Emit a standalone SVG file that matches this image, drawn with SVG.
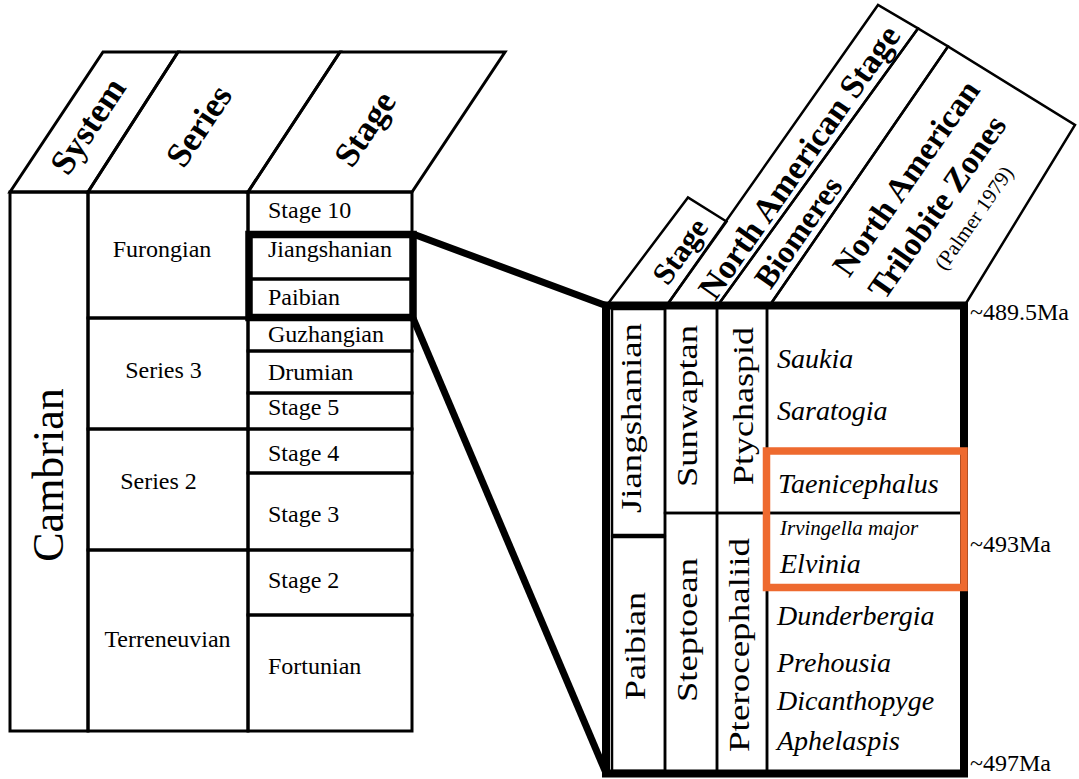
<svg xmlns="http://www.w3.org/2000/svg" width="1079" height="779" viewBox="0 0 1079 779">
<style>
.t{font-family:"Liberation Serif","Times New Roman",serif;fill:#000}
.lt{font-size:24px}
.hb{font-weight:bold}
.it{font-style:italic;font-size:28px}
.vt{font-size:30px}
.ln{stroke:#000;stroke-width:3;fill:none}
.tn{stroke:#000;stroke-width:2.5;fill:none}
.thick{stroke:#000;stroke-width:7.5;fill:none}
.orange{stroke:#EE6A2F;stroke-width:7.5;fill:none}
.lab{font-size:24px}
</style>
<rect width="1079" height="779" fill="#fff"/>

<!-- Left table headers -->
<g id="left-header-system">
<polygon class="ln" points="10,192 103,52 178,52 88,192"/>
<text class="t hb" font-size="35" text-anchor="middle" dominant-baseline="central" transform="translate(88,126) rotate(-56.4)">System</text>
</g>
<g id="left-header-series">
<polygon class="ln" points="88,192 178,52 340,52 248,192"/>
<text class="t hb" font-size="35" text-anchor="middle" dominant-baseline="central" transform="translate(199,126) rotate(-56.4)">Series</text>
</g>
<g id="left-header-stage">
<polygon class="ln" points="248,192 340,52 505,52 412,192"/>
<text class="t hb" font-size="35" text-anchor="middle" dominant-baseline="central" transform="translate(365,129) rotate(-56.4)">Stage</text>
</g>

<!-- Left table body -->
<g id="cambrian">
<rect class="ln" x="10" y="192" width="78" height="539"/>
<text class="t" font-size="44" text-anchor="middle" transform="translate(63,475) rotate(-90)">Cambrian</text>
</g>
<g id="furongian">
<rect class="ln" x="88" y="192" width="160" height="126"/>
<text class="t lt" x="162" y="257" text-anchor="middle">Furongian</text>
</g>
<g id="series3">
<rect class="ln" x="88" y="318" width="160" height="111"/>
<text class="t lt" x="163.5" y="378" text-anchor="middle">Series 3</text>
</g>
<g id="series2">
<rect class="ln" x="88" y="429" width="160" height="121"/>
<text class="t lt" x="158.5" y="489" text-anchor="middle">Series 2</text>
</g>
<g id="terreneuvian">
<rect class="ln" x="88" y="550" width="160" height="181"/>
<text class="t lt" x="167.5" y="647" text-anchor="middle">Terreneuvian</text>
</g>
<g id="stage10">
<rect class="ln" x="248" y="192" width="164" height="41"/>
<text class="t lt" x="268" y="218">Stage 10</text>
</g>
<g id="jiangshanian-left">
<rect class="ln" x="248" y="233" width="164" height="46"/>
<text class="t lt" x="268" y="257">Jiangshanian</text>
</g>
<g id="paibian-left">
<rect class="ln" x="248" y="279" width="164" height="39"/>
<text class="t lt" x="268" y="305">Paibian</text>
</g>
<g id="guzhangian">
<rect class="ln" x="248" y="318" width="164" height="33"/>
<text class="t lt" x="268" y="342">Guzhangian</text>
</g>
<g id="drumian">
<rect class="ln" x="248" y="351" width="164" height="42"/>
<text class="t lt" x="268" y="380">Drumian</text>
</g>
<g id="stage5">
<rect class="ln" x="248" y="393" width="164" height="36"/>
<text class="t lt" x="268" y="415">Stage 5</text>
</g>
<g id="stage4">
<rect class="ln" x="248" y="429" width="164" height="44"/>
<text class="t lt" x="268" y="461">Stage 4</text>
</g>
<g id="stage3">
<rect class="ln" x="248" y="473" width="164" height="77"/>
<text class="t lt" x="268" y="522">Stage 3</text>
</g>
<g id="stage2">
<rect class="ln" x="248" y="550" width="164" height="65"/>
<text class="t lt" x="268" y="588">Stage 2</text>
</g>
<g id="fortunian">
<rect class="ln" x="248" y="615" width="164" height="116"/>
<text class="t lt" x="268" y="674">Fortunian</text>
</g>
<g id="highlight-left">
<rect class="thick" x="249" y="234.5" width="164" height="83"/>
</g>

<!-- Connectors -->
<g id="connectors">
<line x1="413" y1="234" x2="607" y2="306" stroke="#000" stroke-width="7"/>
<line x1="413" y1="318" x2="606" y2="773" stroke="#000" stroke-width="7"/>
</g>

<!-- Right table headers -->
<g id="right-header-stage">
<polygon class="tn" points="607,305 688,197.5 726.5,221.5 667,305"/>
<text class="t hb" font-size="31" text-anchor="middle" dominant-baseline="central" transform="translate(680,251) rotate(-55)">Stage</text>
</g>
<g id="right-header-nastage">
<polygon class="tn" points="667,305 878,5 918,28.5 718,305"/>
<text class="t hb" font-size="34" text-anchor="middle" dominant-baseline="central" transform="translate(799,162) rotate(-55)">North American Stage</text>
</g>
<g id="right-header-biomeres">
<polygon class="tn" points="718,305 918,28.5 948,46.5 770,305"/>
<text class="t hb" font-size="32" text-anchor="middle" dominant-baseline="central" transform="translate(798,232) rotate(-55)">Biomeres</text>
</g>
<g id="right-header-zones">
<polygon class="tn" points="770,305 948,46.5 1075,125 965,305"/>
<text class="t hb" font-size="33" text-anchor="middle" dominant-baseline="central" transform="translate(906,178) rotate(-55)">North American</text>
<text class="t hb" font-size="33" text-anchor="middle" dominant-baseline="central" transform="translate(937,207) rotate(-55)">Trilobite Zones</text>
<text class="t" font-size="21" text-anchor="middle" dominant-baseline="central" transform="translate(974,218) rotate(-55)">(Palmer 1979)</text>
</g>

<!-- Right table body -->
<g id="jiangshanian-right">
<rect class="tn" x="612" y="309" width="53" height="226"/>
<text class="t vt" font-size="29" text-anchor="middle" textLength="190" lengthAdjust="spacingAndGlyphs" transform="translate(641,418) rotate(-90)">Jiangshanian</text>
</g>
<g id="paibian-right">
<rect class="tn" x="612" y="537" width="53" height="234"/>
<text class="t vt" font-size="32" text-anchor="middle" textLength="108" lengthAdjust="spacingAndGlyphs" transform="translate(645,646) rotate(-90)">Paibian</text>
</g>
<g id="sunwaptan">
<rect class="tn" x="665" y="306" width="52" height="207"/>
<text class="t vt" text-anchor="middle" textLength="162" lengthAdjust="spacingAndGlyphs" transform="translate(697,406) rotate(-90)">Sunwaptan</text>
</g>
<g id="steptoean">
<rect class="tn" x="665" y="513" width="52" height="260"/>
<text class="t vt" text-anchor="middle" textLength="144" lengthAdjust="spacingAndGlyphs" transform="translate(697,630) rotate(-90)">Steptoean</text>
</g>
<g id="ptychaspid">
<rect class="tn" x="717" y="306" width="50" height="207"/>
<text class="t vt" font-size="33" text-anchor="middle" textLength="158" lengthAdjust="spacingAndGlyphs" transform="translate(753,406) rotate(-90)">Ptychaspid</text>
</g>
<g id="pterocephaliid">
<rect class="tn" x="717" y="513" width="50" height="260"/>
<text class="t vt" font-size="32" text-anchor="middle" textLength="214" lengthAdjust="spacingAndGlyphs" transform="translate(749,645) rotate(-90)">Pterocephaliid</text>
</g>
<g id="zones-upper">
<rect class="tn" x="767" y="306" width="197" height="207"/>
<text class="t it" x="777" y="368">Saukia</text>
<text class="t it" x="777" y="420">Saratogia</text>
<text class="t it" x="778" y="493">Taenicephalus</text>
</g>
<g id="zones-lower">
<rect class="tn" x="767" y="513" width="197" height="260"/>
<text class="t" font-style="italic" font-size="21" x="780" y="535">Irvingella major</text>
<text class="t it" x="780" y="573">Elvinia</text>
<text class="t it" x="777" y="625">Dunderbergia</text>
<text class="t it" x="777" y="672">Prehousia</text>
<text class="t it" x="777" y="710">Dicanthopyge</text>
<text class="t it" x="777" y="750">Aphelaspis</text>
</g>
<g id="right-frame">
<rect x="606" y="305.5" width="358" height="468" stroke="#000" stroke-width="8" fill="none"/>
</g>
<g id="orange-highlight">
<rect class="orange" x="766.5" y="451" width="197.5" height="136.5"/>
</g>
<g id="age-labels">
<text class="t lab" x="970" y="320">~489.5Ma</text>
<text class="t lab" x="970" y="552">~493Ma</text>
<text class="t lab" x="970" y="771">~497Ma</text>
</g>
</svg>
